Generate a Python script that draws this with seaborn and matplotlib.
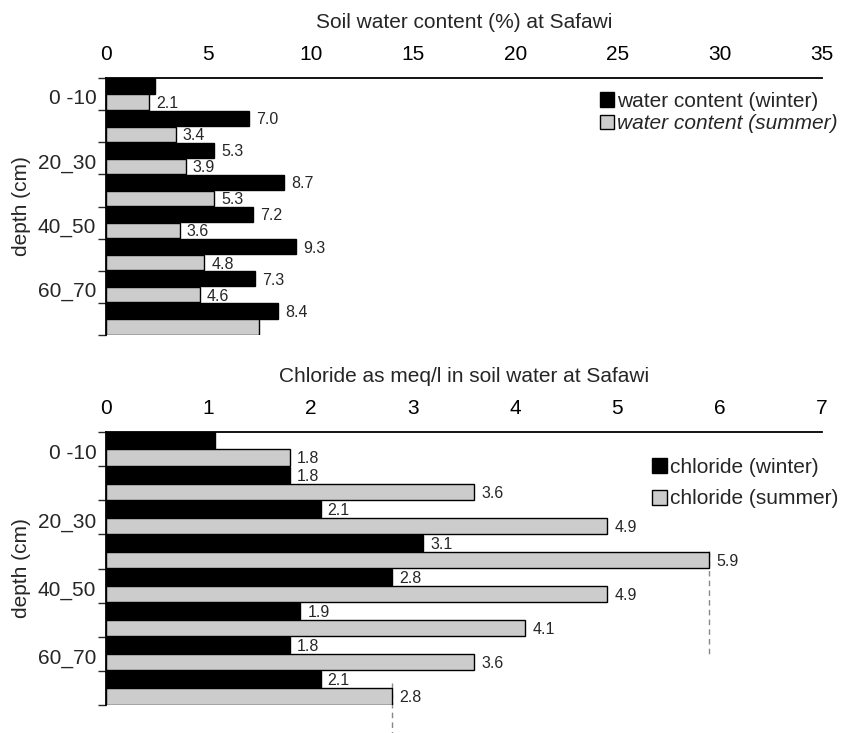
import matplotlib
matplotlib.use("Agg")
import matplotlib.pyplot as plt
from matplotlib.patches import Patch
import numpy as np
import pandas as pd
import seaborn as sns

# Depth intervals (cm)
depth = ["0 -10", "10_20", "20_30", "30_40", "40_50", "50_60", "60_70", "70_80"]
depth_shown = ["0 -10", "20_30", "40_50", "60_70"]

# Soil water content (%)
water_winter = [2.4, 7.0, 5.3, 8.7, 7.2, 9.3, 7.3, 8.4]
water_summer = [2.1, 3.4, 3.9, 5.3, 3.6, 4.8, 4.6, 7.5]
water_winter_lab = [None, "7.0", "5.3", "8.7", "7.2", "9.3", "7.3", "8.4"]
water_summer_lab = ["2.1", "3.4", "3.9", "5.3", "3.6", "4.8", "4.6", None]

# Chloride in soil water (meq/l)
cl_winter = [1.07, 1.8, 2.1, 3.1, 2.8, 1.9, 1.8, 2.1]
cl_summer = [1.8, 3.6, 4.9, 5.9, 4.9, 4.1, 3.6, 2.8]
cl_winter_lab = [None, "1.8", "2.1", "3.1", "2.8", "1.9", "1.8", "2.1"]
cl_summer_lab = ["1.8", "3.6", "4.9", "5.9", "4.9", "4.1", "3.6", "2.8"]

seasons = ["winter", "summer"]
colors = {"winter": "black", "summer": "#cccccc"}

sns.set_style("ticks")
plt.rcParams["font.family"] = ["Liberation Sans", "DejaVu Sans"]

fig = plt.figure(figsize=(8.43, 7.33), dpi=100)
W, H = 843, 733
ax1 = fig.add_axes([106 / W, 1 - 335 / H, 716 / W, 257 / H])
ax2 = fig.add_axes([106 / W, 1 - 705 / H, 716 / W, 273 / H])


def long_frame(winter, summer):
    return pd.DataFrame({
        "depth": depth * 2,
        "value": list(winter) + list(summer),
        "season": ["winter"] * len(depth) + ["summer"] * len(depth),
    })


def draw_panel(ax, winter, summer, wlab, slab, xmax, xstep, title, legend_labels,
               legend_anchor, legend_spacing, italic_summer):
    df = long_frame(winter, summer)
    sns.barplot(data=df, x="value", y="depth", hue="season", orient="h",
                order=depth, hue_order=seasons, palette=colors,
                width=1.0, gap=0.05, edgecolor="black", linewidth=1.0,
                errorbar=None, legend=False, ax=ax)

    ax.set_xlim(0, xmax)
    ax.set_ylim(len(depth) - 0.5, -0.5)

    # x axis on top
    ax.xaxis.tick_top()
    ax.xaxis.set_label_position("top")
    ax.set_xticks(np.arange(0, xmax + 0.01, xstep))
    ax.set_xticklabels([f"{int(v)}" for v in np.arange(0, xmax + 0.01, xstep)])
    ax.tick_params(axis="x", which="major", direction="out", length=6, width=1.0,
                   labelsize=15, pad=4, colors="black")
    ax.set_xlabel(title, fontsize=15, labelpad=12)

    # y axis: ticks at group boundaries, labels on every other group
    ax.set_yticks(np.arange(-0.5, len(depth), 1.0))
    ax.set_yticklabels([])
    ax.set_yticks([depth.index(d) + 0.08 for d in depth_shown], minor=True)
    ax.set_yticklabels(depth_shown, minor=True)
    ax.tick_params(axis="y", which="major", direction="out", length=6, width=1.0)
    ax.tick_params(axis="y", which="minor", length=0, labelsize=15, pad=7)
    ax.set_ylabel("depth (cm)", fontsize=15, labelpad=5)

    sns.despine(ax=ax, top=False, right=True, bottom=True, left=False)
    for s in ("top", "left"):
        ax.spines[s].set_linewidth(1.3)
        ax.spines[s].set_color("black")

    # value labels at the bar ends
    n = len(depth)
    for i in range(n):
        for vals, labs, off in ((winter, wlab, -0.25), (summer, slab, 0.25)):
            if labs[i] is not None:
                ax.annotate(labs[i], xy=(vals[i], i + off), xytext=(5, -1),
                            textcoords="offset points", ha="left", va="center",
                            fontsize=11.5)

    handles = [Patch(facecolor="black", edgecolor="black", linewidth=1.0),
               Patch(facecolor="#cccccc", edgecolor="black", linewidth=1.0)]
    leg = ax.legend(handles, legend_labels, loc="upper right",
                    bbox_to_anchor=legend_anchor, bbox_transform=fig.transFigure,
                    frameon=False, fontsize=15, handlelength=0.7, handleheight=0.7,
                    handletextpad=0.15, labelspacing=legend_spacing,
                    borderpad=0, borderaxespad=0)
    if italic_summer:
        leg.get_texts()[1].set_fontstyle("italic")
    return ax


draw_panel(ax1, water_winter, water_summer, water_winter_lab, water_summer_lab,
           35, 5, "Soil water content (%) at Safawi",
           ["water content (winter)", "water content (summer)"],
           (838 / W, 1 - 92 / H), 0.15, True)

draw_panel(ax2, cl_winter, cl_summer, cl_winter_lab, cl_summer_lab,
           7, 1, "Chloride as meq/l in soil water at Safawi",
           ["chloride (winter)", "chloride (summer)"],
           (838 / W, 1 - 458 / H), 0.6, False)

# dashed guide lines below the largest and the deepest chloride bars
ax2.plot([5.9, 5.9], [3.0, 6.13], color="#888888", lw=1.0, ls=(0, (4, 3)),
         clip_on=False, zorder=0.5)
ax2.plot([2.8, 2.8], [6.86, 8.35], color="#888888", lw=1.0, ls=(0, (4, 3)),
         clip_on=False, zorder=0.5)

fig.savefig("out.png", dpi=100)
